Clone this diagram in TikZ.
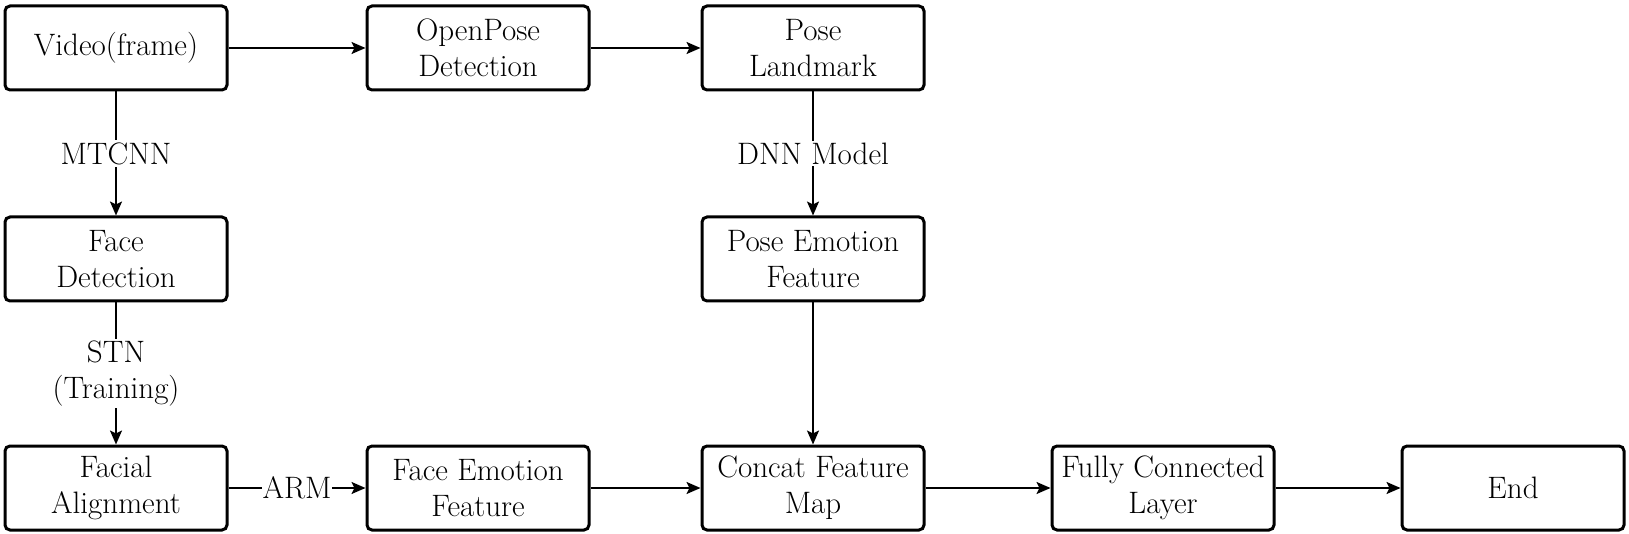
\documentclass[tikz,border=0pt]{standalone}
\usetikzlibrary{arrows.meta}
\begin{document}
\begin{tikzpicture}[x=1pt,y=-1pt,
  box/.style={draw, line width=3pt, rounded corners=5pt, minimum width=222pt, minimum height=84pt, align=center, inner sep=0pt, font=\fontsize{31}{36}\selectfont},
  lab/.style={fill=white, align=center, inner sep=2pt, font=\fontsize{31}{36}\selectfont},
  arr/.style={line width=2pt, -{Stealth[length=14pt,width=12pt,inset=3pt]}}]
\useasboundingbox (0,0) rectangle (1629,534);
\node[box] (video) at (116,48) {Video(frame)};
\node[box] (openpose) at (478,48) {OpenPose\\Detection};
\node[box] (landmark) at (813,48) {Pose\\Landmark};
\node[box] (facedet) at (116,259) {Face\\Detection};
\node[box] (poseemo) at (813,259) {Pose Emotion\\Feature};
\node[box] (align) at (116,488) {Facial\\Alignment};
\node[box] (faceemo) at (478,488) {Face Emotion\\Feature};
\node[box] (concat) at (813,488) {Concat Feature\\Map};
\node[box] (fc) at (1163,488) {Fully Connected\\Layer};
\node[box] (end) at (1513,488) {End};
\draw[arr] (video) -- (openpose);
\draw[arr] (openpose) -- (landmark);
\draw[arr] (video) -- node[lab] (mtcnn) {MTCNN} (facedet);
\draw[arr] (landmark) -- node[lab] (dnn) {DNN Model} (poseemo);
\draw[arr] (facedet) -- node[lab, pos=0.5] (stn) {STN\\(Training)} (align);
\draw[arr] (align) -- node[lab, inner sep=1pt] (arm) {ARM} (faceemo);
\draw[arr] (faceemo) -- (concat);
\draw[arr] (poseemo) -- (concat);
\draw[arr] (concat) -- (fc);
\draw[arr] (fc) -- (end);
\end{tikzpicture}
\end{document}
